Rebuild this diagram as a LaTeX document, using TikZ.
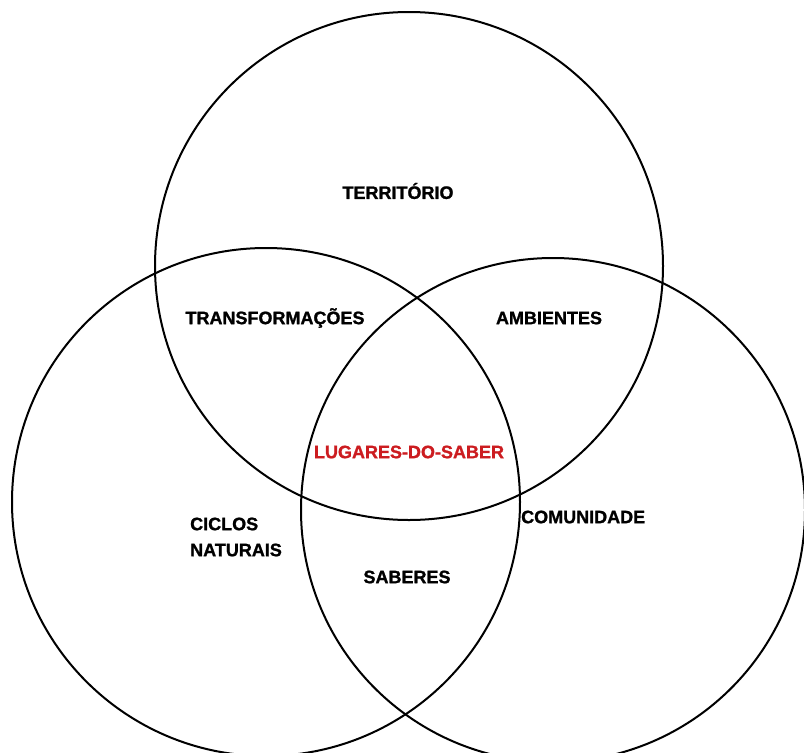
\documentclass[tikz,border=0pt]{standalone}
\usepackage{fontspec}
\setmainfont{Liberation Sans}[BoldFeatures={FakeBold=1.2}]
\definecolor{lred}{RGB}{204,28,32}
\begin{document}
\begin{tikzpicture}[x=1pt,y=-1pt,
  ring/.style={draw=black,line width=2pt},
  lbl/.style={font=\fontsize{18}{26}\selectfont\bfseries,inner sep=0pt}]
\useasboundingbox (0,0) rectangle (804,753);
\draw[ring] (409,266) circle[radius=254];
\draw[ring] (266,502) circle[radius=254];
\draw[ring] (553,510) circle[radius=252];
\node[lbl] (terr) at (398,191) {TERRITÓRIO};
\node[lbl] (trans) at (275,318) {TRANSFORMAÇÕES};
\node[lbl] (amb) at (549,318) {AMBIENTES};
\node[lbl,text=lred] (lug) at (409,452) {LUGARES-DO-SABER};
\node[lbl,align=left,anchor=west] (cic) at (190,537) {CICLOS\\NATURAIS};
\node[lbl,anchor=west] (com) at (521,517) {COMUNIDADE};
\node[lbl] (sab) at (407,577) {SABERES};
\end{tikzpicture}
\end{document}
